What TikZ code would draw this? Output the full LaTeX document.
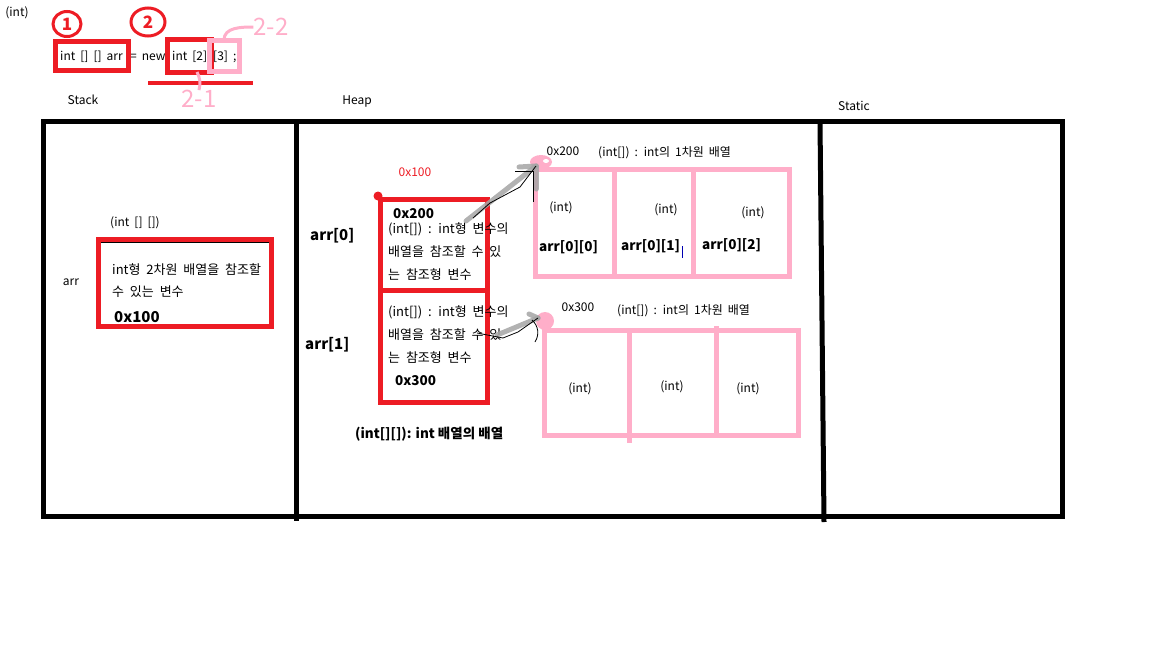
\documentclass[tikz,border=0pt]{standalone}
\usepackage{fontspec}
\setmainfont{Noto Sans CJK KR}
\usetikzlibrary{positioning}

\definecolor{pred}{RGB}{237,28,36}
\definecolor{ppink}{RGB}{255,174,201}
\definecolor{pgray}{RGB}{165,165,165}

\newcommand\lblspace{\spaceskip=.42em\relax}
\newcommand\krspace{\spaceskip=.45em\relax}

\tikzset{
  frame/.style={draw=black, line width=5pt},
  redbox/.style={draw=pred, line width=5pt, inner sep=0pt, outer sep=0pt},
  pinkbox/.style={draw=ppink, line width=5pt, inner sep=0pt, outer sep=0pt},
  lbl/.style={font=\fontsize{12}{14}\selectfont\lblspace, inner sep=0pt},
  kr/.style={font=\fontsize{13}{15}\selectfont\krspace, inner sep=0pt, anchor=west},
  bld/.style={font=\bfseries\fontsize{13.5}{16}\selectfont, inner sep=0pt},
  hand/.style={text=ppink, font=\fontsize{24}{24}\selectfont, inner sep=0pt},
  circ/.style={draw=pred, line width=3pt, ellipse, text=pred, font=\bfseries\fontsize{17}{17}\selectfont, inner sep=0pt},
  ptr/.style={draw=pgray, line width=5pt, line cap=round, opacity=.85},
  thin/.style={draw=black, line width=.8pt}
}

\usetikzlibrary{shapes.geometric}

\begin{document}
\begin{tikzpicture}[x=1pt,y=-1pt]
  \useasboundingbox (0,0) rectangle (1152,648);

  % code line on top
  \node[lbl] (typ) at (17,13) {(int)};
  \node[circ, minimum width=28, minimum height=25] (one) at (67,24) {1};
  \node[circ, minimum width=34, minimum height=28] (two) at (148,22) {2};
  \node[lbl, anchor=west] (decl) at (60,57) {int [] [] arr};
  \node[lbl, anchor=west] (eqn) at (130,57) {= new};
  \node[lbl, anchor=west] (dim1) at (172,57) {int [2]};
  \node[lbl, anchor=west] (dim2) at (213,57) {[3] ;};
  \node[redbox, minimum width=73, minimum height=29] (declbox) at (92,55.5) {};
  \node[redbox, minimum width=44, minimum height=33] (dimbox) at (189,55.5) {};
  \node[pinkbox, minimum width=30, minimum height=31] (dimbox2) at (224,55.5) {};
  \coordinate (ul0) at (148,83);
  \coordinate (ul1) at (253,83);
  \draw[pred, line width=4pt] (ul0) -- (ul1);
  \node[hand] (h21) at (199,99) {2-1};
  \node[hand] (h22) at (271,27) {2-2};
  \draw[ppink, line width=3pt] (dimbox.south) ++(8,0) to[bend left=20] (h21.north);
  \draw[ppink, line width=3pt] (dimbox2.north) to[out=90,in=180] (h22.west);

  % areas
  \node[lbl] (stk) at (83,100) {Stack};
  \node[lbl] (hp) at (357,101) {Heap};
  \node[lbl] (stc) at (854,106) {Static};
  \draw[frame] (43,121) rectangle (1062,516);
  \draw[frame] (296,121) -- (296,521);
  \draw[frame] (820,121) -- (824,522);

  % stack
  \node[lbl] (arrname) at (71,282) {arr};
  \node[lbl] (arrtype) at (135,223) {(int [] [])};
  \draw[thin] (99,242) rectangle (273,328);
  \node[redbox, minimum width=173, minimum height=87] (arrvar) at (184.5,283) {};
  \node[kr] (s1) at (112,270) {int형 2차원 배열을 참조할};
  \node[kr] (s2) at (112,292) {수 있는 변수};
  \node[bld, anchor=west, font=\bfseries\fontsize{15}{17}\selectfont] (s3) at (114,317) {0x100};

  % heap: array of references
  \node[lbl, text=pred] (haddr) at (415,172) {0x100};
  \node[redbox, minimum width=106.5, minimum height=91] (cell0) at (433.75,245) {};
  \node[redbox, minimum width=106.5, minimum height=112] (cell1) at (433.75,346.5) {};
  \fill[pred] (378,196) circle (4.5);
  \node[bld, anchor=west, font=\bfseries\fontsize{15}{17}\selectfont] (r0) at (310,236) {arr[0]};
  \node[bld, anchor=west, font=\bfseries\fontsize{15}{17}\selectfont] (r1) at (305,345) {arr[1]};
  \node[bld, anchor=west] (c0a) at (393,214) {0x200};
  \node[kr] (c0b) at (388,229) {(int[]) : int형 변수의};
  \node[kr] (c0c) at (388,252) {배열을 참조할 수 있};
  \node[kr] (c0d) at (388,275) {는 참조형 변수};
  \node[kr] (c1a) at (388,312) {(int[]) : int형 변수의};
  \node[kr] (c1b) at (388,335) {배열을 참조할 수 있};
  \node[kr] (c1c) at (388,358) {는 참조형 변수};
  \node[bld, anchor=west] (c1d) at (395,381) {0x300};
  \node[bld, anchor=west] (hnote) at (355,434) {(int[][]): int 배열의 배열};

  % heap: first row array
  \node[lbl] (ad0) at (563,151) {0x200};
  \node[lbl, anchor=west] (at0) at (598,153) {(int[]) : int의 1차원 배열};
  \node[pinkbox, minimum width=79, minimum height=107] (a00) at (574.5,222.5) {};
  \node[pinkbox, minimum width=79, minimum height=107] (a01) at (653.5,222.5) {};
  \node[pinkbox, minimum width=96, minimum height=107] (a02) at (741,222.5) {};
  \node[lbl] (t00) at (561,208) {(int)};
  \node[lbl] (t01) at (666,210) {(int)};
  \node[lbl] (t02) at (753,213) {(int)};
  \node[bld, anchor=west] (e00) at (539,247) {arr[0][0]};
  \node[bld, anchor=west] (e01) at (621,246) {arr[0][1]};
  \node[bld, anchor=west] (e02) at (702,245) {arr[0][2]};
  \draw[blue!70!black, line width=1pt] (682,246) -- (682,258);

  % heap: second row array
  \node[lbl] (ad1) at (578,307) {0x300};
  \node[lbl, anchor=west] (at1) at (617,311) {(int[]) : int의 1차원 배열};
  \node[pinkbox, minimum width=84.5, minimum height=105] (a10) at (586.75,383) {};
  \node[pinkbox, minimum width=87, minimum height=105] (a11) at (672.5,383) {};
  \node[pinkbox, minimum width=82.5, minimum height=105] (a12) at (757.25,383) {};
  \draw[ppink, line width=5pt] (a11.south west) -- ++(0,7);
  \draw[ppink, line width=5pt] (a12.north west) -- ++(0,-5);
  \node[lbl] (t10) at (580,389) {(int)};
  \node[lbl] (t11) at (672,387) {(int)};
  \node[lbl] (t12) at (748,389) {(int)};

  % references
  \coordinate (p0) at (466,221);
  \coordinate (q0) at (536,166);
  \coordinate (p1) at (497,335);
  \coordinate (q1) at (538,318);
  \fill[ppink] (541,162) ellipse (11 and 7);
  \fill[white] (546,161) ellipse (3 and 2);
  \fill[ppink] (545,321) ellipse (9 and 9);
  \draw[ptr] (p0) -- (q0);
  \draw[ptr] (q0) -- ++(-17,1);
  \draw[ptr] (q0) -- ++(0,23);
  \draw[ptr] (p1) -- (q1);
  \draw[ptr] (q1) -- ++(-9,-4);
  \draw[thin] (473,218) -- (490,203) -- (520,187) -- (q0);
  \draw[thin] (515,171) -- (533,171) -- (533,202);
  \draw[thin] (477,333) -- (503,338) -- (518,332) -- (q1);
  \draw[thin] (532,320) to[bend left=40] (535,342);
\end{tikzpicture}
\end{document}
